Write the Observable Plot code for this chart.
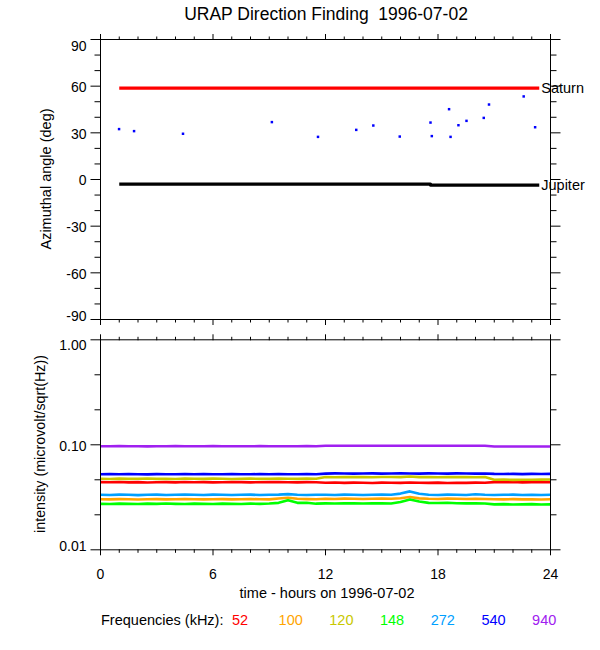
<!DOCTYPE html>
<html><head><meta charset="utf-8">
<script src="https://cdn.jsdelivr.net/npm/d3@7"></script>
<script src="https://cdn.jsdelivr.net/npm/@observablehq/plot@0.6"></script>
<style>
html,body{margin:0;padding:0;background:#fff;}
#chart{position:relative;width:600px;height:650px;background:#fff;overflow:hidden;}
</style></head><body><div id="chart"></div>
<script>
// ---------- data ----------
const xMajor = [0, 6, 12, 18, 24];
const xMinor = [1,2,3,4,5,7,8,9,10,11,13,14,15,16,17,19,20,21,22,23];
const angleTicks = [-90, -60, -30, 0, 30, 60, 90];
const angleMinor = [-80,-70,-50,-40,-20,-10,10,20,40,50,70,80];
const intensityTicks = [0.01, 0.1, 1];
const intensityMinor = [0.02154, 0.04642, 0.2154, 0.4642];

const saturnT = [1.0, 23.4];
const saturnV = [58.7, 58.7];
const jupiterT = [1.0, 17.6, 17.6, 23.4];
const jupiterV = [-3.0, -3.0, -3.6, -3.6];

const dfT = [0.99, 1.79, 4.4, 9.14, 11.6, 13.64, 14.55, 15.96, 17.6, 17.67, 18.59, 18.67, 19.09, 19.52, 20.44, 20.72, 22.57, 23.18];
const dfV = [32.4, 31.1, 29.4, 36.9, 27.4, 31.9, 34.7, 27.6, 36.6, 27.9, 45.2, 27.4, 34.9, 37.7, 39.6, 48.2, 53.4, 33.6];

const hours = [0,0.5,1,1.5,2,2.5,3,3.5,4,4.5,5,5.5,6,6.5,7,7.5,8,8.5,9,9.5,10,10.5,11,11.5,
  12,12.5,13,13.5,14,14.5,15,15.5,16,16.5,17,17.5,18,18.5,19,19.5,20,20.5,
  21,21.5,22,22.5,23,23.5,24];

const int52 = [0.0441,0.0440,0.0442,0.0439,0.0441,0.0437,0.0440,0.0441,0.0439,0.0442,0.0440,0.0441,0.0439,0.0440,0.0442,0.0441,0.0439,0.0440,0.0441,0.0442,0.0440,0.0439,0.0441,0.0440,
  0.0435,0.0437,0.0434,0.0436,0.0435,0.0433,0.0436,0.0435,0.0434,0.0437,0.0435,0.0434,0.0436,0.0433,0.0435,0.0434,0.0436,0.0435,
  0.0441,0.0440,0.0442,0.0439,0.0441,0.0440,0.0441];
const int100 = [0.0303,0.0302,0.0304,0.0303,0.0301,0.0303,0.0304,0.0302,0.0303,0.0304,0.0303,0.0302,0.0303,0.0304,0.0302,0.0303,0.0304,0.0303,0.0302,0.0308,0.0313,0.0306,0.0304,0.0303,
  0.0306,0.0305,0.0307,0.0306,0.0305,0.0306,0.0307,0.0306,0.0310,0.0318,0.0309,0.0306,0.0305,0.0307,0.0306,0.0305,0.0306,0.0305,
  0.0303,0.0302,0.0304,0.0302,0.0303,0.0301,0.0303];
const int120 = [0.0475,0.0473,0.0476,0.0474,0.0475,0.0477,0.0474,0.0475,0.0473,0.0476,0.0475,0.0474,0.0476,0.0475,0.0473,0.0475,0.0476,0.0474,0.0475,0.0477,0.0475,0.0474,0.0476,0.0475,
  0.0493,0.0491,0.0494,0.0492,0.0493,0.0491,0.0494,0.0493,0.0492,0.0499,0.0492,0.0493,0.0491,0.0494,0.0492,0.0493,0.0491,0.0493,
  0.0464,0.0466,0.0463,0.0465,0.0464,0.0466,0.0467];
const int148 = [0.0274,0.0273,0.0275,0.0274,0.0273,0.0275,0.0274,0.0276,0.0274,0.0273,0.0275,0.0274,0.0273,0.0275,0.0274,0.0273,0.0275,0.0274,0.0276,0.0280,0.0296,0.0280,0.0281,0.0275,
  0.0277,0.0276,0.0278,0.0277,0.0276,0.0278,0.0277,0.0276,0.0285,0.0301,0.0288,0.0280,0.0279,0.0281,0.0278,0.0277,0.0278,0.0276,
  0.0271,0.0272,0.0270,0.0271,0.0272,0.0270,0.0271];
const int272 = [0.0334,0.0333,0.0335,0.0334,0.0332,0.0334,0.0335,0.0333,0.0334,0.0336,0.0334,0.0333,0.0335,0.0334,0.0333,0.0334,0.0335,0.0333,0.0334,0.0335,0.0339,0.0334,0.0333,0.0334,
  0.0334,0.0333,0.0335,0.0334,0.0333,0.0334,0.0335,0.0334,0.0343,0.0360,0.0342,0.0334,0.0333,0.0335,0.0334,0.0333,0.0338,0.0334,
  0.0333,0.0334,0.0335,0.0333,0.0334,0.0333,0.0334];
const int540 = [0.0525,0.0527,0.0524,0.0526,0.0525,0.0523,0.0526,0.0525,0.0524,0.0527,0.0525,0.0526,0.0524,0.0525,0.0527,0.0525,0.0524,0.0526,0.0525,0.0527,0.0524,0.0525,0.0526,0.0525,
  0.0532,0.0534,0.0533,0.0531,0.0533,0.0534,0.0532,0.0533,0.0535,0.0533,0.0532,0.0534,0.0533,0.0532,0.0534,0.0533,0.0531,0.0533,
  0.0528,0.0527,0.0529,0.0526,0.0528,0.0527,0.0528];
const int940 = [0.0970,0.0968,0.0971,0.0969,0.0970,0.0967,0.0970,0.0969,0.0971,0.0968,0.0970,0.0969,0.0971,0.0970,0.0968,0.0970,0.0969,0.0971,0.0968,0.0970,0.0969,0.0970,0.0971,0.0969,
  0.0980,0.0981,0.0980,0.0979,0.0980,0.0981,0.0980,0.0980,0.0979,0.0981,0.0980,0.0980,0.0979,0.0980,0.0981,0.0980,0.0980,0.0979,
  0.0964,0.0963,0.0965,0.0964,0.0963,0.0964,0.0964];

const freqLabels = ["52", "100", "120", "148", "272", "540", "940"];
const freqColors = ["#ff0000", "#ffa500", "#c8c800", "#00ff00", "#00a0ff", "#0000ff", "#a020f0"];
const freqSeries = [int52, int100, int120, int148, int272, int540, int940];

// ---------- helpers ----------
const FONT = '"Liberation Sans", Arial, Helvetica, sans-serif';
const blank = () => "";
const rows = (T, V) => T.map((t, i) => ({t, v: V[i]}));
const plotStyle = {fontFamily: FONT, fontSize: "14px", color: "black", background: "transparent", overflow: "visible"};

function xTickMarks(anchor) {
  return [
    Plot.axisX(xMajor, {anchor, tickSize: 6, tickFormat: blank, label: null, stroke: "black"}),
    Plot.axisX(xMinor, {anchor, tickSize: 3.5, tickFormat: blank, label: null, stroke: "black"})
  ];
}
function yTickMarks(major, minor) {
  return ["left", "right"].flatMap(anchor => [
    Plot.axisY(major, {anchor, tickSize: 9.5, tickFormat: blank, label: null, stroke: "black"}),
    Plot.axisY(minor, {anchor, tickSize: 5.5, tickFormat: blank, label: null, stroke: "black"})
  ]);
}
function yLabels(vals, fmt, dy) {
  return Plot.axisY(vals, {anchor: "left", tickSize: 0, tickPadding: 14, dy, label: null, fontSize: 14, tickFormat: fmt});
}

const chartEl = document.getElementById("chart");

// ---------- top panel: direction finding ----------
const topPlot = Plot.plot({
  width: 600, height: 330,
  marginTop: 39, marginBottom: 11, marginLeft: 100, marginRight: 50,
  style: plotStyle,
  x: {domain: [0, 24]},
  y: {domain: [-90, 90]},
  marks: [
    Plot.line(rows(saturnT, saturnV), {x: "t", y: "v", stroke: "#ff0000", strokeWidth: 3.2, strokeLinecap: "butt"}),
    Plot.line(rows(jupiterT, jupiterV), {x: "t", y: "v", stroke: "black", strokeWidth: 3.4, strokeLinecap: "butt"}),
    Plot.dot(rows(dfT, dfV), {x: "t", y: "v", r: 1.4, fill: "#0000ff", stroke: "none", symbol: "square"}),
    Plot.text([{t: saturnT[saturnT.length - 1], v: saturnV[saturnV.length - 1], s: "Saturn"}],
      {x: "t", y: "v", text: "s", textAnchor: "start", dx: 2, fontSize: 14.5, fill: "black"}),
    Plot.text([{t: jupiterT[jupiterT.length - 1], v: jupiterV[jupiterV.length - 1], s: "Jupiter"}],
      {x: "t", y: "v", text: "s", textAnchor: "start", dx: 2, fontSize: 14.5, fill: "black"}),
    ...xTickMarks("bottom"),
    ...xTickMarks("top"),
    ...yTickMarks(angleTicks, angleMinor),
    yLabels(angleTicks.slice(1, -1), d => String(d), 1.5),
    yLabels(angleTicks.slice(-1), d => String(d), 7.5),
    yLabels(angleTicks.slice(0, 1), d => String(d), -2.5),
    Plot.frame({stroke: "black", strokeWidth: 1})
  ]
});
topPlot.style.position = "absolute";
topPlot.style.left = "0px";
topPlot.style.top = "0px";
chartEl.appendChild(topPlot);

// ---------- bottom panel: intensities ----------
const fmt2 = d3.format(".2f");
const lineMarks = freqSeries.map((S, k) =>
  Plot.line(rows(hours, S), {x: "t", y: "v", stroke: freqColors[k], strokeWidth: 2.6, strokeLinecap: "butt"}));

const bottomPlot = Plot.plot({
  width: 600, height: 270,
  marginTop: 9.3, marginBottom: 50.7, marginLeft: 100, marginRight: 50,
  style: plotStyle,
  x: {domain: [0, 24]},
  y: {type: "log", domain: [0.01, 1]},
  marks: [
    ...lineMarks,
    ...xTickMarks("bottom"),
    ...xTickMarks("top"),
    ...yTickMarks(intensityTicks, intensityMinor),
    Plot.axisX(xMajor, {anchor: "bottom", tickSize: 0, tickPadding: 19, label: null, fontSize: 14, tickFormat: d => String(d)}),
    yLabels([0.1], fmt2, 1.7),
    yLabels([1], fmt2, 6),
    yLabels([0.01], fmt2, -3.6),
    Plot.frame({stroke: "black", strokeWidth: 1})
  ]
});
bottomPlot.style.position = "absolute";
bottomPlot.style.left = "0px";
bottomPlot.style.top = "330px";
chartEl.appendChild(bottomPlot);

// ---------- titles, axis titles, legend ----------
const svg = d3.select(chartEl).append("svg")
  .attr("width", 600).attr("height", 650)
  .style("position", "absolute").style("left", "0px").style("top", "0px")
  .style("pointer-events", "none")
  .attr("font-family", FONT).attr("fill", "black");

svg.append("text").attr("x", 326).attr("y", 19.5).attr("text-anchor", "middle")
  .style("white-space", "pre")
  .attr("font-size", 17.5).text("URAP Direction Finding  1996-07-02");

svg.append("text").attr("transform", "translate(51,179) rotate(-90)").attr("text-anchor", "middle")
  .attr("font-size", 14.5).text("Azimuthal angle (deg)");

svg.append("text").attr("transform", "translate(44.5,444) rotate(-90)").attr("text-anchor", "middle")
  .attr("font-size", 14.3).text("intensity (microvolt/sqrt(Hz))");

svg.append("text").attr("x", 327).attr("y", 597.5).attr("text-anchor", "middle")
  .attr("font-size", 14.5).text("time - hours on 1996-07-02");

svg.append("text").attr("x", 101).attr("y", 625).attr("text-anchor", "start")
  .attr("font-size", 14.5).text("Frequencies (kHz):");

svg.selectAll("text.freq").data(freqLabels).enter().append("text")
  .attr("class", "freq")
  .attr("x", (d, i) => 240 + i * 50.7).attr("y", 625).attr("text-anchor", "middle")
  .attr("font-size", 14.5).attr("fill", (d, i) => freqColors[i]).text(d => d);
</script></body></html>
